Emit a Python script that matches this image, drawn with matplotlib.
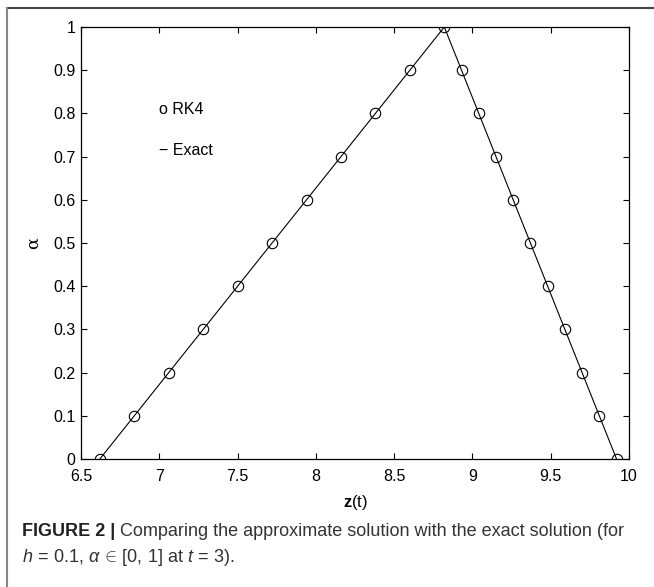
import matplotlib
matplotlib.use("Agg")
import matplotlib.pyplot as plt
from matplotlib.lines import Line2D

plt.rcParams['font.family'] = ['Liberation Sans', 'DejaVu Sans']
plt.rcParams['mathtext.fontset'] = 'custom'
plt.rcParams['mathtext.rm'] = 'Liberation Sans'
plt.rcParams['mathtext.it'] = 'Liberation Sans:italic'
plt.rcParams['mathtext.bf'] = 'Liberation Sans:bold'

# alpha levels and z(t) values
alpha = [0, 0.1, 0.2, 0.3, 0.4, 0.5, 0.6, 0.7, 0.8, 0.9, 1.0,
         0.9, 0.8, 0.7, 0.6, 0.5, 0.4, 0.3, 0.2, 0.1, 0]
z_rk4 = [6.62, 6.84, 7.06, 7.28, 7.50, 7.72, 7.94, 8.16, 8.38, 8.60, 8.82,
         8.93, 9.04, 9.15, 9.26, 9.37, 9.48, 9.59, 9.70, 9.81, 9.92]
z_exact = z_rk4

xticks = [6.5, 7, 7.5, 8, 8.5, 9, 9.5, 10]
xticklabels = ["6.5", "7", "7.5", "8", "8.5", "9", "9.5", "10"]
yticks = [0, 0.1, 0.2, 0.3, 0.4, 0.5, 0.6, 0.7, 0.8, 0.9, 1]
yticklabels = ["0", "0.1", "0.2", "0.3", "0.4", "0.5", "0.6", "0.7", "0.8", "0.9", "1"]

fig = plt.figure(figsize=(6.54, 5.87), dpi=100)
ax = fig.add_axes([0.1239, 0.218, 0.838, 0.736])

ax.plot(z_exact, alpha, color='black', lw=0.8)
ax.plot(z_rk4, alpha, ls='none', marker='o', ms=7.5, mfc='none', mec='black', mew=0.8)

ax.set_xlim(6.5, 10)
ax.set_ylim(0, 1)
ax.set_xticks(xticks)
ax.set_xticklabels(xticklabels)
ax.set_yticks(yticks)
ax.set_yticklabels(yticklabels)
ax.tick_params(direction='in', top=True, right=True, length=4, width=0.8,
               labelsize=11.5)
ax.tick_params(axis='x', pad=7)
ax.tick_params(axis='y', pad=4)
for s in ax.spines.values():
    s.set_linewidth(0.9)

ax.set_xlabel(r'$\mathbf{z}\mathrm{(t)}$', fontsize=12, labelpad=7)
ax.set_ylabel('α', fontsize=12.5, labelpad=8, family=['DejaVu Serif'])

ax.text(7.0, 0.81, 'o RK4', fontsize=11.5, va='center', ha='left')
ax.text(7.0, 0.713, '− Exact', fontsize=11.5, va='center', ha='left')

# outer frame (top and left)
fig.add_artist(Line2D([7 / 654, 1], [1 - 8 / 587, 1 - 8 / 587],
                      transform=fig.transFigure, color='#444444', lw=1.5))
fig.add_artist(Line2D([7 / 654, 7 / 654], [0, 1 - 8 / 587],
                      transform=fig.transFigure, color='#888888', lw=1.5))

# caption
cap_y1 = 1 - 532 / 587
cap_y2 = 1 - 558 / 587
t1 = fig.text(22 / 654, cap_y1, 'FIGURE 2 |', fontsize=13, fontweight='bold',
              va='center', ha='left', color='#222222')
fig.canvas.draw()
bb = t1.get_window_extent()
x2 = (bb.x1 + 5) / fig.bbox.width
fig.text(x2, cap_y1, 'Comparing the approximate solution with the exact solution (for',
         fontsize=13, va='center', ha='left', color='#333333')
fig.text(22 / 654, cap_y2,
         r'$h\,=\,0.1$, $\alpha\,\in\,[0,\,1]$ at $t\,=\,3$).',
         fontsize=13, va='center', ha='left', color='#333333')

fig.savefig('out.png', dpi=100)
plt.close(fig)
